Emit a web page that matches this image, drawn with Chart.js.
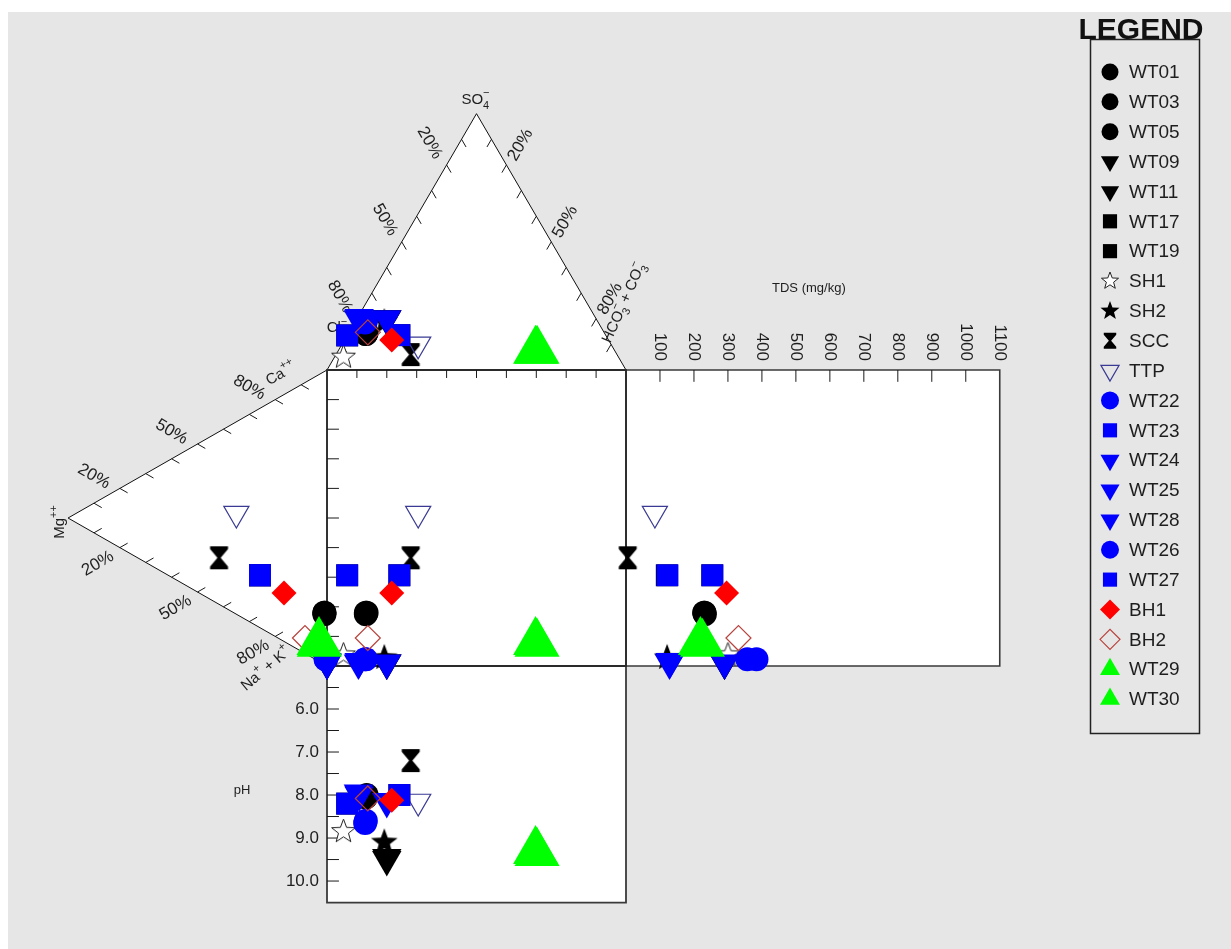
<!DOCTYPE html>
<html><head><meta charset="utf-8">
<script src="https://cdn.jsdelivr.net/npm/chart.js@4.4.0/dist/chart.umd.min.js"></script>
<style>
html,body{margin:0;padding:0;background:#fff;}
#wrap{position:relative;width:1231px;height:949px;overflow:hidden;}
canvas{display:block;}
</style></head><body>
<div id="wrap"><canvas id="c" width="1231" height="949"></canvas></div>
<script>
// ---------------- DATA ----------------
const samples = ['WT01','WT03','WT05','WT09','WT11','WT17','WT19','SH1','SH2','SCC','TTP','WT22','WT23','WT24','WT25','WT28','WT26','WT27','BH1','BH2','WT29','WT30'];
// anions, % meq
const anionCl   = [80, 80, 79.5, 70, 70, 86.5, 69, 92, 71.5, 69, 64.5, 77.5, 86.5, 79.5, 70, 79, 78, 69, 72.5, 79, 26.5, 26];
const anionSO4  = [14, 14, 14.5, 20, 20, 13.5, 13.6, 5, 18.7, 6, 10, 19, 13.5, 20, 20, 20.5, 18.5, 13.6, 11.7, 14.7, 7.5, 7.5];
const anionHCO3 = [6, 6, 6, 10, 10, 0, 17.4, 3, 9.8, 25, 25.5, 3.5, 0, 0.5, 10, 0.5, 3.5, 17.4, 15.8, 6.3, 66, 66.5];
// cations, % meq
const cationCa  = [17.5, 17, 17.5, 1, 1, 17.7, 17.7, 3, 2.5, 15.7, 34, 2, 17.7, 1, 1, 1.5, 2, 17.7, 16.4, 5.2, 6.6, 6];
const cationMg  = [1, 1, 1, 0, 0, 25.9, 25.9, 1.5, 0.5, 41.7, 35, 0.5, 25.9, 0, 0, 0, 0.5, 25.9, 16.6, 8.5, 3.1, 3];
const cationNaK = [81.5, 82, 81.5, 99, 99, 56.4, 56.4, 95.5, 97, 42.6, 31, 97.5, 56.4, 99, 99, 98.5, 97.5, 56.4, 67, 86.3, 90.3, 91];
// TDS (mg/kg) and pH
const tdsValues = [231, 232, 230, 290, 290, 120, 254, 300, 121, 5, 85, 357, 122, 128, 290, 130, 384, 254, 296, 331, 219, 225];
const phValues  = [8.05, 8.05, 8.0, 9.5, 9.45, 8.2, 8.0, 8.85, 9.1, 7.2, 8.15, 8.6, 8.2, 7.95, 8.15, 8.0, 8.65, 8.0, 8.12, 8.08, 9.3, 9.35];
// tick labels
const ternaryTickValues = [20, 50, 80];
const ternaryTickLabels = ['20%', '50%', '80%'];
const tdsTickValues = [100, 200, 300, 400, 500, 600, 700, 800, 900, 1000, 1100];
const phTickValues = [6, 7, 8, 9, 10];
const phTickLabels = ['6.0', '7.0', '8.0', '9.0', '10.0'];

// ---------------- STYLES ----------------
const sampleKind = ['blackCircle','blackCircle','blackCircle','blackTri','blackTri','blackSquare','blackSquare','openStar','blackStar','hourglass','openTri','blueCircle','blueSquare','blueTri','blueTri','blueTri','blueCircle','blueSquare','redDiamond','openDiamond','greenTri','greenTri'];
const styleKinds = {
  blackCircle: {shape:'circle', fill:'#000000', stroke:'#000000', r:12, lr:8.5, bw:0},
  blackTri:    {shape:'triDown', fill:'#000000', stroke:'#000000', r:17, lr:10.5, bw:0},
  blackSquare: {shape:'rect', fill:'#000000', stroke:'#000000', r:15.5, lr:10, bw:0},
  openStar:    {shape:'star', fill:'#ffffff', stroke:'#222222', r:12.5, lr:9, bw:1},
  blackStar:   {shape:'star', fill:'#000000', stroke:'#000000', r:14, lr:10, bw:0},
  hourglass:   {shape:'hourglass', fill:'#000000', stroke:'#000000', r:11.5, lr:8, bw:0},
  openTri:     {shape:'triDown', fill:'rgba(255,255,255,0)', stroke:'#3a3a94', r:14.5, lr:10.5, bw:1.2},
  blueCircle:  {shape:'circle', fill:'#0000ff', stroke:'#0000ff', r:12, lr:9, bw:0},
  blueSquare:  {shape:'rect', fill:'#0000ff', stroke:'#0000ff', r:15.5, lr:10, bw:0},
  blueTri:     {shape:'triDown', fill:'#0000ff', stroke:'#0000ff', r:17, lr:11, bw:0},
  redDiamond:  {shape:'diamond', fill:'#ff0000', stroke:'#ff0000', r:12.5, lr:10, bw:0},
  openDiamond: {shape:'diamond', fill:'rgba(255,255,255,0)', stroke:'#b8433d', r:12.5, lr:10, bw:1.2},
  greenTri:    {shape:'triUp', fill:'#00ff00', stroke:'#00ff00', r:26, lr:11.5, bw:0}
};

// ---------------- GEOMETRY (diagram units) ----------------
const SQ3 = Math.sqrt(3) / 2;
const TDS_MAX = 1100, TDS_WIDTH = 125;     // TDS panel width in units
const PH_MIN = 5, PH_MAX = 10.5, PH_UNIT = 14.53;
const PH_BOTTOM = 100 + (PH_MAX - PH_MIN) * PH_UNIT;

function anionXY(cl, so4, hco3) { const t = cl + so4 + hco3; const s = so4*100/t, h = hco3*100/t; return {x: 0.5*s + h, y: -SQ3*s}; }
function cationXY(ca, mg, nak) { const t = ca + mg + nak; const m = mg*100/t, n = nak*100/t; return {x: -SQ3*m, y: 0.5*m + n}; }
function tdsX(v) { return 100 + v / TDS_MAX * TDS_WIDTH; }
function phY(v) { return 100 + (v - PH_MIN) * PH_UNIT; }

// ---------------- MARKERS ----------------
function shapePath(ctx, shape, x, y, r) {
  ctx.beginPath();
  if (shape === 'circle') { ctx.arc(x, y, r, 0, Math.PI*2); }
  else if (shape === 'triDown') { ctx.moveTo(x, y + r); ctx.lineTo(x - r*SQ3, y - r/2); ctx.lineTo(x + r*SQ3, y - r/2); ctx.closePath(); }
  else if (shape === 'triUp') { ctx.moveTo(x, y - r); ctx.lineTo(x + r*SQ3, y + r/2); ctx.lineTo(x - r*SQ3, y + r/2); ctx.closePath(); }
  else if (shape === 'rect') { const h = r*Math.SQRT1_2; ctx.rect(x - h, y - h, 2*h, 2*h); }
  else if (shape === 'diamond') { ctx.moveTo(x - r, y); ctx.lineTo(x, y - r); ctx.lineTo(x + r, y); ctx.lineTo(x, y + r); ctx.closePath(); }
  else if (shape === 'star') {
    for (let k = 0; k < 10; k++) {
      const rr = k % 2 ? r*0.42 : r; const a = -Math.PI/2 + k*Math.PI/5;
      const px = x + rr*Math.cos(a), py = y + rr*Math.sin(a);
      k ? ctx.lineTo(px, py) : ctx.moveTo(px, py);
    }
    ctx.closePath();
  } else if (shape === 'hourglass') {
    const hw = r*0.78, hh = r, bar = r*0.24, waist = r*0.14;
    ctx.moveTo(x - hw, y - hh); ctx.lineTo(x + hw, y - hh); ctx.lineTo(x + hw, y - hh + bar);
    ctx.lineTo(x + waist, y); ctx.lineTo(x + hw, y + hh - bar); ctx.lineTo(x + hw, y + hh);
    ctx.lineTo(x - hw, y + hh); ctx.lineTo(x - hw, y + hh - bar); ctx.lineTo(x - waist, y);
    ctx.lineTo(x - hw, y - hh + bar); ctx.closePath();
  }
}
function drawMarker(ctx, st, x, y, r) {
  ctx.save();
  shapePath(ctx, st.shape, x, y, r);
  ctx.fillStyle = st.fill; ctx.fill();
  if (st.bw > 0) { ctx.lineWidth = st.bw; ctx.strokeStyle = st.stroke; ctx.stroke(); }
  ctx.restore();
}
function canvasMarker(st) {
  const size = Math.ceil(2*st.r + 4);
  const c = document.createElement('canvas'); c.width = size; c.height = size;
  drawMarker(c.getContext('2d'), st, size/2, size/2, st.r);
  return c;
}
function pointStyleFor(st) {
  switch (st.shape) {
    case 'circle': return {ps:'circle', rot:0};
    case 'triDown': return {ps:'triangle', rot:180};
    case 'triUp': return {ps:'triangle', rot:0};
    case 'rect': return {ps:'rect', rot:0};
    case 'diamond': return {ps:'rectRot', rot:0};
    default: return {ps: canvasMarker(st), rot:0};
  }
}

// ---------------- DATASETS ----------------
const datasets = samples.map((name, i) => {
  const a = anionXY(anionCl[i], anionSO4[i], anionHCO3[i]);
  const c = cationXY(cationCa[i], cationMg[i], cationNaK[i]);
  const st = styleKinds[sampleKind[i]];
  const p = pointStyleFor(st);
  return {
    label: name,
    data: [
      {x: a.x, y: a.y},                 // anion triangle
      {x: c.x, y: c.y},                 // cation triangle
      {x: a.x, y: c.y},                 // central square
      {x: tdsX(tdsValues[i]), y: c.y},  // TDS panel
      {x: a.x, y: phY(phValues[i])}     // pH panel
    ],
    showLine: false,
    pointStyle: p.ps,
    pointRotation: p.rot,
    pointRadius: st.r,
    pointHoverRadius: st.r,
    pointBackgroundColor: st.fill,
    pointBorderColor: st.stroke,
    pointBorderWidth: st.bw,
    order: -i,
    clip: false
  };
});

// ---------------- TEXT HELPERS ----------------
const FAM = '"Liberation Sans", Arial, sans-serif';
const TXT = '#1e1e1e';
function richText(ctx, cx, cy, angleDeg, parts, size) {
  ctx.save();
  ctx.translate(cx, cy); ctx.rotate(angleDeg*Math.PI/180);
  ctx.textBaseline = 'middle'; ctx.textAlign = 'left'; ctx.fillStyle = TXT;
  const fontOf = p => (p.k ? Math.round(size*0.72) : size) + 'px ' + FAM;
  let x = 0, prev = null; const placed = [];
  for (const p of parts) {
    ctx.font = fontOf(p);
    const w = ctx.measureText(p.t).width;
    let px = x;
    if (p.k === 'sup' && prev && prev.k === 'sub') { px = prev.x; x = prev.x + Math.max(prev.w, w); }
    else x += w;
    const it = {t:p.t, k:p.k, x:px, w:w}; placed.push(it); prev = it;
  }
  for (const it of placed) {
    ctx.font = fontOf(it);
    const dy = it.k === 'sub' ? size*0.4 : it.k === 'sup' ? -size*0.42 : 0;
    ctx.fillText(it.t, it.x - x/2, dy);
  }
  ctx.restore();
}

// ---------------- FRAME PLUGIN ----------------
const framePlugin = {
  id: 'durovFrame',
  beforeDraw(chart) {
    const ctx = chart.ctx;
    ctx.save();
    ctx.fillStyle = '#ffffff'; ctx.fillRect(0, 0, chart.width, chart.height);
    ctx.fillStyle = '#e6e6e6'; ctx.fillRect(8, 12, chart.width - 8, chart.height - 12);
    ctx.restore();
  },
  beforeDatasetsDraw(chart) {
    const ctx = chart.ctx, xs = chart.scales.x, ys = chart.scales.y;
    const P = (x, y) => [xs.getPixelForValue(x), ys.getPixelForValue(y)];
    const poly = (pts, fill, stroke, lw) => {
      ctx.beginPath();
      pts.forEach((p, k) => { const q = P(p[0], p[1]); k ? ctx.lineTo(q[0], q[1]) : ctx.moveTo(q[0], q[1]); });
      ctx.closePath();
      if (fill) { ctx.fillStyle = fill; ctx.fill(); }
      if (stroke) { ctx.strokeStyle = stroke; ctx.lineWidth = lw; ctx.stroke(); }
    };
    const seg = (x1, y1, x2, y2) => { const a = P(x1, y1), b = P(x2, y2); ctx.moveTo(a[0], a[1]); ctx.lineTo(b[0], b[1]); };
    ctx.save();
    const topTri = [[0,0],[100,0],[50,-SQ3*100]];
    const leftTri = [[0,0],[0,100],[-SQ3*100,50]];
    const square = [[0,0],[100,0],[100,100],[0,100]];
    const tdsRect = [[100,0],[100+TDS_WIDTH,0],[100+TDS_WIDTH,100],[100,100]];
    const phRect = [[0,100],[100,100],[100,PH_BOTTOM],[0,PH_BOTTOM]];
    [topTri, leftTri, square, tdsRect, phRect].forEach(p => poly(p, '#ffffff', null, 0));
    poly(topTri, null, '#111111', 1);
    poly(leftTri, null, '#111111', 1);
    poly(tdsRect, null, '#3a3a3a', 1.6);
    poly(phRect, null, '#3a3a3a', 1.8);
    poly(square, null, '#2a2a2a', 1.8);

    // ticks
    ctx.beginPath(); ctx.strokeStyle = '#1a1a1a'; ctx.lineWidth = 1;
    const L = 3;
    for (let p = 10; p <= 90; p += 10) {
      const q = 100 - p;
      let sx = 0.5*q, sy = -SQ3*q; seg(sx, sy, sx + 0.5*L, sy + SQ3*L);
      sx = 0.5*q + p; seg(sx, sy, sx - 0.5*L, sy + SQ3*L);
      sx = -SQ3*q; sy = 0.5*q; seg(sx, sy, sx + SQ3*L, sy + 0.5*L);
      sy = 0.5*q + p; seg(sx, sy, sx + SQ3*L, sy - 0.5*L);
      seg(p, 0, p, 2.7);
      seg(0, p, 4, p);
    }
    tdsTickValues.forEach(v => { if (v < TDS_MAX) seg(tdsX(v), 0, tdsX(v), 4); });
    for (let v = PH_MIN + 0.5; v < PH_MAX; v += 0.5) seg(0, phY(v), 4, phY(v));
    ctx.stroke();

    // ternary tick labels
    ternaryTickValues.forEach((p, k) => {
      const q = 100 - p, lab = ternaryTickLabels[k];
      let a = P(0.5*q, -SQ3*q); richText(ctx, a[0] - 17, a[1] - 22, 60, [{t:lab}], 17);
      a = P(0.5*q + p, -SQ3*q); richText(ctx, a[0] + 14, a[1] - 20, -60, [{t:lab}], 17);
      a = P(-SQ3*q, 0.5*q); richText(ctx, a[0] - 26, a[1] - 12, 30, [{t:lab}], 17);
      a = P(-SQ3*q, 0.5*q + p); richText(ctx, a[0] - 22, a[1] + 16, -30, [{t:lab}], 17);
    });

    // TDS labels
    ctx.fillStyle = TXT;
    tdsTickValues.forEach(v => {
      const a = P(tdsX(v), 0);
      ctx.save(); ctx.translate(a[0], a[1] - 9); ctx.rotate(Math.PI/2);
      ctx.font = '17px ' + FAM; ctx.textAlign = 'right'; ctx.textBaseline = 'middle';
      ctx.fillText(String(v), 0, 0); ctx.restore();
    });
    const tdsTitle = P(100 + TDS_WIDTH*0.5, 0);
    ctx.font = '13px ' + FAM; ctx.textAlign = 'center'; ctx.textBaseline = 'middle';
    ctx.fillText('TDS (mg/kg)', tdsTitle[0] - 4, tdsTitle[1] - 82);

    // pH labels
    ctx.font = '17px ' + FAM; ctx.textAlign = 'right'; ctx.textBaseline = 'middle';
    phTickValues.forEach((v, k) => { const a = P(0, phY(v)); ctx.fillText(phTickLabels[k], a[0] - 8, a[1]); });
    const phT = P(0, phY(7.9));
    ctx.font = '13px ' + FAM; ctx.textAlign = 'center';
    ctx.fillText('pH', phT[0] - 85, phT[1]);

    // vertex labels
    let v = P(50, -SQ3*100); richText(ctx, v[0] - 1, v[1] - 14, 0, [{t:'SO'},{t:'4',k:'sub'},{t:'\u2212',k:'sup'}], 15);
    v = P(0, 0); richText(ctx, v[0] + 10, v[1] - 42, 0, [{t:'Cl'},{t:'\u2212',k:'sup'}], 15);
    v = P(100, 0); richText(ctx, v[0] - 2, v[1] - 67, -66, [{t:'HCO'},{t:'3',k:'sub'},{t:'\u2212',k:'sup'},{t:' + CO'},{t:'3',k:'sub'},{t:'\u2212',k:'sup'}], 15);
    v = P(0, 0); richText(ctx, v[0] - 46, v[1] + 4, -30, [{t:'Ca'},{t:'++',k:'sup'}], 15);
    v = P(-SQ3*100, 50); richText(ctx, v[0] - 8, v[1] + 4, -90, [{t:'Mg'},{t:'++',k:'sup'}], 15);
    v = P(0, 100); richText(ctx, v[0] - 61, v[1] + 3, -40, [{t:'Na'},{t:'+',k:'sup'},{t:' + K'},{t:'+',k:'sup'}], 15);
    ctx.restore();
  },
  afterDraw(chart) {
    const ctx = chart.ctx;
    ctx.save();
    ctx.fillStyle = '#111111'; ctx.font = 'bold 30px ' + FAM;
    ctx.textAlign = 'center'; ctx.textBaseline = 'alphabetic';
    ctx.fillText('LEGEND', 1141, 39);
    ctx.strokeStyle = '#222222'; ctx.lineWidth = 1.5;
    ctx.strokeRect(1090.5, 39.5, 109, 694);
    chart.data.datasets.forEach((ds, i) => {
      const y = 72 + i*29.86;
      const st = styleKinds[sampleKind[i]];
      drawMarker(ctx, st, 1110, y, st.lr);
      ctx.fillStyle = TXT; ctx.font = '19px ' + FAM; ctx.textAlign = 'left'; ctx.textBaseline = 'middle';
      ctx.fillText(ds.label, 1129, y + 1);
    });
    ctx.restore();
  }
};

new Chart(document.getElementById('c'), {
  type: 'scatter',
  data: { datasets },
  options: {
    responsive: false,
    animation: false,
    events: [],
    layout: { autoPadding: false, padding: { left: 28, right: 216.3, top: 74, bottom: 16.6 } },
    scales: {
      x: { type: 'linear', min: -100, max: 230, display: false },
      y: { type: 'linear', min: -100, max: 190, reverse: true, display: false }
    },
    plugins: { legend: { display: false }, tooltip: { enabled: false }, title: { display: false } }
  },
  plugins: [framePlugin]
});
</script>
</body></html>
